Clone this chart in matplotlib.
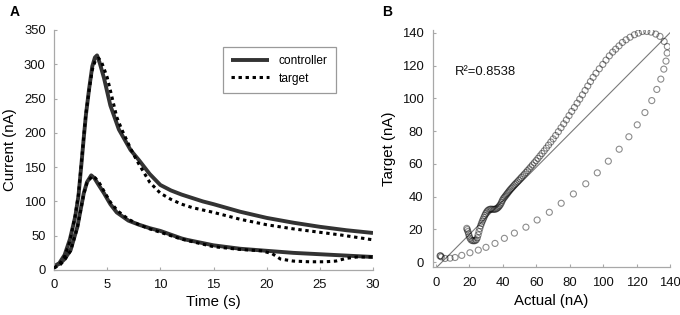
import matplotlib
matplotlib.use("Agg")
import matplotlib.pyplot as plt

plt.rcParams['font.family'] = ['Liberation Sans', 'DejaVu Sans']

# ---------------- Panel A data ----------------
t_ctrl_hi = [0, 0.5, 1.0, 1.5, 2.0, 2.3, 2.6, 2.8, 3.0, 3.3, 3.6, 3.85, 4.05, 4.3, 4.7, 5.3, 6.1, 7.2, 8.0,
             9.0, 10, 11, 12, 13, 14, 15, 17.5, 20, 22.5, 25, 27.5, 30]
v_ctrl_hi = [5, 10, 22, 45, 78, 108, 158, 193, 226, 264, 297, 310, 313, 302, 280, 240, 205, 175, 160,
             140, 124, 116, 110, 105, 100, 96, 85, 76, 69, 63, 58, 54]

t_targ_hi = [0, 0.5, 1.0, 1.5, 2.0, 2.3, 2.6, 2.8, 3.0, 3.3, 3.6, 3.9, 4.2, 4.5, 4.7, 5.0, 5.3, 5.9, 6.4,
             7.0, 7.5, 8.0, 9.0, 10, 11, 12, 13, 15, 17.5, 20, 22.5, 25, 27, 30]
v_targ_hi = [3, 8, 20, 42, 80, 110, 160, 195, 228, 262, 292, 306, 309, 302, 294, 281, 262, 223, 204,
             184, 168, 154, 128, 112, 103, 96, 91, 84, 74, 66, 60, 55, 51, 44]

t_ctrl_lo = [0, 0.6, 1.0, 1.56, 2.2, 2.8, 3.1, 3.5, 3.8, 4.2, 4.7, 5.3, 5.9, 7.0, 8.0, 9.0, 10, 12, 12.5,
             15, 17.5, 20, 22.5, 25, 27.5, 30]
v_ctrl_lo = [5, 10, 16, 29, 63, 112, 128, 138, 134, 124, 112, 96, 84, 72, 66, 61, 57, 46, 44,
             36, 31, 28, 25, 23, 21, 19]

t_targ_lo = [0, 0.6, 1.0, 1.56, 2.2, 2.8, 3.1, 3.6, 3.9, 4.3, 4.7, 5.3, 6.0, 7.0, 8.0, 9.0, 10, 12, 15,
             17.5, 19.5, 20.5, 21.3, 22.5, 24, 25.5, 26.5, 27.5, 28.5, 30]
v_targ_lo = [3, 8, 15, 28, 62, 111, 127, 137, 134, 126, 115, 99, 86, 74, 66, 60, 55, 45, 34,
             30, 28, 24, 16, 13, 12, 12, 13, 17, 19, 19]

a_xticks = [0, 5, 10, 15, 20, 25, 30]
a_yticks = [0, 50, 100, 150, 200, 250, 300, 350]

# ---------------- Panel B data ----------------
rise_actual = [2.4, 2.7, 3.2, 5.4, 8.4, 11.4, 15.4, 20.3, 25.3, 29.9, 35.3, 40.9, 46.9, 53.8, 60.5, 67.8,
               74.9, 82.2, 89.6, 96.5, 103.1, 109.6, 115.4, 120.4, 125.0, 129.1, 132.1, 134.5, 136.3,
               137.6, 138.3, 138.4]
rise_target = [3.7, 3.9, 3.2, 2.2, 2.4, 2.8, 4.1, 5.7, 7.3, 9.0, 11.4, 14.5, 17.7, 21.3, 25.7, 30.4,
               35.9, 41.6, 47.8, 54.5, 61.6, 68.9, 76.5, 83.8, 91.3, 98.6, 105.4, 111.7, 117.8,
               122.7, 127.6, 131.6]

decay_actual = [136.5, 134.0, 131.5, 128.7, 126.1, 123.5, 121.1, 118.7, 116.1, 113.7, 111.5, 109.5, 107.5,
                105.7, 103.7, 101.7, 99.8, 97.7, 95.7, 94.0, 92.4, 90.8, 89.2, 87.6, 86.0, 84.4, 82.8,
                81.2, 79.6, 78.0, 76.4, 74.8, 73.2, 71.6, 70.1, 68.7, 67.3, 66.0, 64.7, 63.4, 62.2, 61.0,
                59.9, 58.8, 57.7, 56.7, 55.7, 54.7, 53.8, 52.9, 52.0, 51.1, 50.3, 49.5, 48.7, 47.9, 47.2,
                46.5, 45.8, 45.1, 44.4, 43.8, 43.2, 42.6, 42.0, 41.4, 40.8, 40.2, 39.7, 39.2, 38.7, 38.1,
                37.5, 36.9, 36.2, 35.5, 34.8, 34.0, 33.2, 32.4, 31.6, 30.9, 30.3, 29.7, 29.2, 28.7, 28.2,
                27.7, 27.2, 26.7, 26.2, 25.7, 25.2, 24.7, 24.1, 23.4, 22.6, 21.8, 21.0, 20.4, 19.9, 19.5,
                19.1, 18.7, 18.4]
decay_target = [134.7, 137.8, 139.2, 140.4, 140.8, 140.8, 139.8, 138.8, 137.3, 135.7, 134.1, 132.0, 130.0,
                128.2, 125.9, 123.3, 120.7, 118.0, 115.3, 112.8, 110.2, 107.5, 104.8, 102.1, 99.5, 97.0, 94.4,
                92.0, 89.4, 86.8, 84.4, 82.0, 79.6, 77.3, 75.2, 73.3, 71.4, 69.6, 67.9, 66.3, 64.8, 63.3,
                61.9, 60.6, 59.3, 58.1, 56.9, 55.8, 54.7, 53.7, 52.7, 51.7, 50.8, 49.9, 49.0, 48.2, 47.4,
                46.6, 45.8, 45.0, 44.2, 43.4, 42.6, 41.8, 41.0, 40.2, 39.4, 38.6, 37.6, 36.5, 35.4, 34.5,
                33.7, 33.1, 32.6, 32.3, 32.2, 32.2, 32.3, 32.3, 32.0, 31.4, 30.6, 29.6, 28.5, 27.3, 26.1,
                24.9, 23.6, 22.2, 20.5, 18.6, 16.6, 14.8, 13.6, 13.1, 13.0, 13.1, 13.5, 14.5, 15.8, 17.2,
                18.6, 19.8, 20.6]

fit_x = [0.6, 140]
fit_y = [-3.0, 140]
r2_text = "R²=0.8538"
b_ticks = [0, 20, 40, 60, 80, 100, 120, 140]

# ---------------- Figure ----------------
W, H = 680, 315
fig = plt.figure(figsize=(W / 100, H / 100), dpi=100)
axA = fig.add_axes([54 / W, 1 - 270 / H, 319 / W, 240 / H])
axB = fig.add_axes([433 / W, 1 - 267 / H, 237 / W, 237.5 / H])

spine_col = '#a8a8a8'
for ax in (axA, axB):
    for s in ('top', 'right'):
        ax.spines[s].set_visible(False)
    for s in ('left', 'bottom'):
        ax.spines[s].set_color(spine_col)
        ax.spines[s].set_linewidth(0.9)
    ax.tick_params(direction='in', length=2.5, width=0.8, color=spine_col,
                   labelsize=9.4, labelcolor='#111111')

# Panel A
ctrl_col = '#333333'
axA.plot(t_ctrl_hi, v_ctrl_hi, color=ctrl_col, lw=2.8, solid_capstyle='butt', solid_joinstyle='round',
         label='controller', zorder=2)
axA.plot(t_ctrl_lo, v_ctrl_lo, color=ctrl_col, lw=2.8, solid_capstyle='butt', solid_joinstyle='round',
         zorder=2)
axA.plot(t_targ_hi, v_targ_hi, color='black', lw=2.2, ls=(0, (1.1, 1.2)), label='target', zorder=3)
axA.plot(t_targ_lo, v_targ_lo, color='black', lw=2.2, ls=(0, (1.1, 1.2)), zorder=3)
axA.set_xlim(0, 30)
axA.set_ylim(0, 350)
axA.set_xticks(a_xticks)
axA.set_yticks(a_yticks)
axA.tick_params(axis='x', pad=6.5)
axA.tick_params(axis='y', pad=6)
axA.set_xlabel('Time (s)', fontsize=10.8, labelpad=3)
axA.set_ylabel('Current (nA)', fontsize=10.8, labelpad=5)
leg = axA.legend(loc='upper left', bbox_to_anchor=(0.529, 0.930), borderaxespad=0,
                 fontsize=8.6, handlelength=3.2, handletextpad=0.8, borderpad=0.7,
                 labelspacing=0.45, fancybox=False, framealpha=1)
leg.get_frame().set_edgecolor('#9a9a9a')
leg.get_frame().set_linewidth(0.9)

# Panel B
axB.plot(fit_x, fit_y, color='#7a7a7a', lw=0.8, zorder=1)
axB.scatter(rise_actual, rise_target, s=19, facecolors='none', edgecolors='black',
            linewidths=0.8, alpha=0.45, zorder=2)
axB.scatter(decay_actual, decay_target, s=19, facecolors='none', edgecolors='black',
            linewidths=0.8, alpha=0.45, zorder=2)
axB.set_xlim(-1.8, 140)
axB.set_ylim(-3, 142)
axB.set_xticks(b_ticks)
axB.set_yticks(b_ticks)
axB.tick_params(axis='x', pad=7.5)
axB.tick_params(axis='y', pad=7)
axB.set_xlabel('Actual (nA)', fontsize=10.8, labelpad=3)
axB.set_ylabel('Target (nA)', fontsize=10.8, labelpad=4)
axB.text(11.4, 116, r2_text, fontsize=9.4, va='center', ha='left', color='#111111')

fig.text(10 / W, 1 - 12.5 / H, 'A', fontsize=10, fontweight='bold', va='center', ha='left')
fig.text(382 / W, 1 - 12.5 / H, 'B', fontsize=10, fontweight='bold', va='center', ha='left')

fig.savefig('out.png', dpi=100)
